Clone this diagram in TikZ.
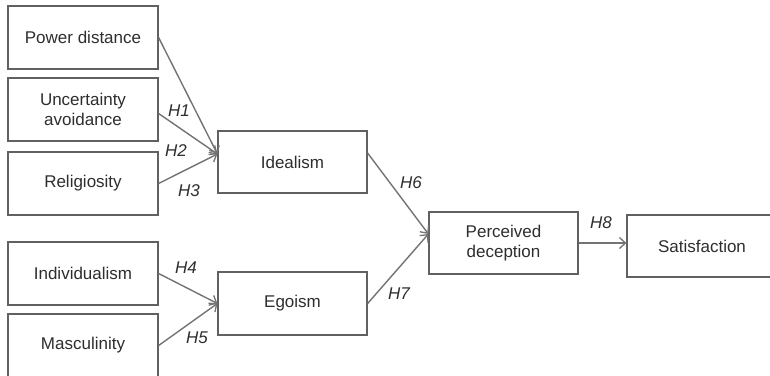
\documentclass[tikz,border=0pt]{standalone}
\usepackage{fontspec}
\setmainfont{Liberation Sans}
\usetikzlibrary{arrows.meta}
\definecolor{boxline}{gray}{0.38}
\definecolor{arrowline}{gray}{0.45}
\definecolor{txt}{gray}{0.18}
\tikzset{
  varbox/.style={draw=boxline, line width=1.2pt, fill=white, minimum width=150pt, minimum height=63pt,
    inner sep=0pt, align=center, text=txt, font=\fontsize{17}{19.5}\selectfont},
  path/.style={draw=arrowline, line width=1.4pt, -{Straight Barb[length=6pt,width=11pt,line width=1.3pt]}},
  hyp/.style={text=txt, font=\fontsize{17}{19.5}\selectfont\itshape, inner sep=0pt}
}
\begin{document}
\begin{tikzpicture}[x=1pt,y=-1pt]
\useasboundingbox (0,0) rectangle (770,375);
\clip (0,0) rectangle (770,375);
\node[varbox] (pd)  at (83,37.5)  {Power distance};
\node[varbox] (ua)  at (83,109.5) {Uncertainty\\avoidance};
\node[varbox] (rel) at (83,183.5) {Religiosity};
\node[varbox] (ind) at (83,273.5) {Individualism};
\node[varbox] (mas) at (83,345.5) {Masculinity};
\node[varbox, minimum width=149pt, minimum height=62pt] (ide) at (292.5,162) {Idealism};
\node[varbox, minimum width=149pt] (ego) at (292.5,303.5) {Egoism};
\node[varbox, minimum width=149pt, minimum height=62pt] (pdc) at (503.5,243) {Perceived\\deception};
\node[varbox, minimum height=62pt] (sat) at (702,246) {Satisfaction};

\draw[path] (pd.east) -- ([yshift=8pt]ide.west);
\draw[path] ([yshift=-4pt]ua.east) -- ([yshift=8pt]ide.west);
\draw[path] (rel.east) -- ([yshift=8pt]ide.west);
\draw[path] (ind.east) -- (ego.west);
\draw[path] (mas.east) -- (ego.west);
\draw[path] ([yshift=9pt]ide.east) -- ([yshift=9pt]pdc.west);
\draw[path] (ego.east) -- ([yshift=9pt]pdc.west);
\draw[path] (pdc.east) -- (pdc.east -| sat.west);

\node[hyp] (h1) at (179,111) {H1};
\node[hyp] (h2) at (176,151) {H2};
\node[hyp] (h3) at (189,191) {H3};
\node[hyp] (h4) at (186,268) {H4};
\node[hyp] (h5) at (197,338) {H5};
\node[hyp] (h6) at (411,183) {H6};
\node[hyp] (h7) at (399,294) {H7};
\node[hyp] (h8) at (601,223) {H8};
\end{tikzpicture}
\end{document}
